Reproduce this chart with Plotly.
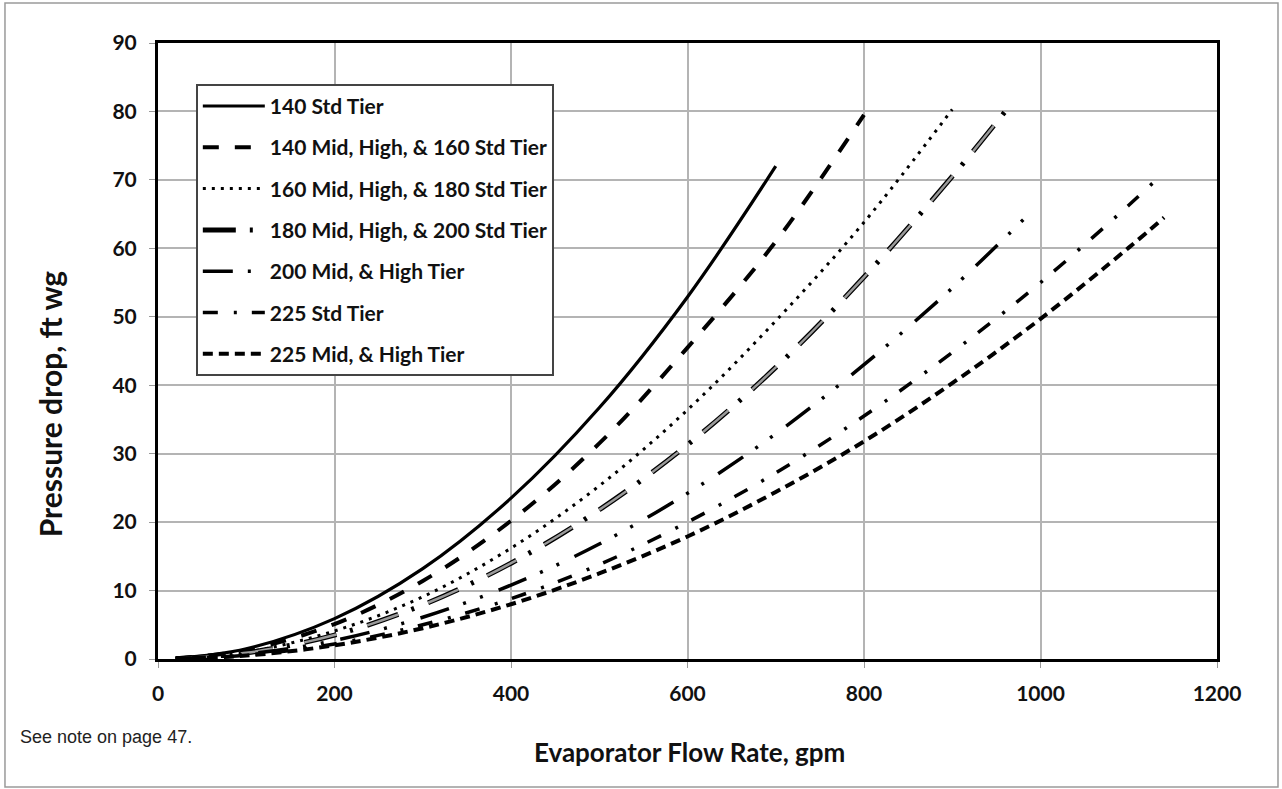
import plotly.graph_objects as go

# ---- data ----
flow_140std = [20, 100, 200, 300, 400, 500, 600, 700]
dp_140std = [0.1, 1.5, 5.9, 13.2, 23.5, 36.7, 52.9, 72.0]

flow_140mid = [20, 100, 200, 300, 400, 500, 600, 700, 800]
dp_140mid = [0.1, 1.3, 5.1, 11.4, 20.2, 31.5, 45.5, 61.0, 79.5]

flow_160mid = [20, 100, 200, 300, 400, 500, 600, 700, 800, 900]
dp_160mid = [0.1, 1.0, 4.1, 9.1, 16.2, 25.3, 36.4, 49.4, 63.8, 80.3]

flow_180mid = [20, 100, 200, 300, 400, 500, 600, 700, 800, 900, 960]
dp_180mid = [0.05, 0.9, 3.5, 7.9, 14.0, 21.8, 31.3, 42.6, 55.8, 70.5, 80.0]

flow_200mid = [20, 100, 200, 300, 400, 500, 600, 700, 800, 900, 990]
dp_200mid = [0.05, 0.7, 2.7, 6.1, 10.8, 16.8, 24.2, 32.9, 43.0, 54.2, 65.4]

flow_225std = [20, 100, 200, 300, 400, 500, 600, 700, 800, 900, 1000, 1100, 1135]
dp_225std = [0.05, 0.55, 2.2, 5.0, 8.8, 13.8, 20.0, 27.2, 35.5, 44.8, 55.0, 66.3, 70.5]

flow_225mid = [20, 100, 200, 300, 400, 500, 600, 700, 800, 900, 1000, 1100, 1140]
dp_225mid = [0.05, 0.5, 2.0, 4.5, 8.0, 12.5, 17.9, 24.4, 31.8, 40.3, 49.7, 60.1, 64.5]

names = [
    "140 Std Tier",
    "140 Mid, High, & 160 Std Tier",
    "160 Mid, High, & 180 Std Tier",
    "180 Mid, High, & 200 Std Tier",
    "200 Mid, & High Tier",
    "225 Std Tier",
    "225 Mid, & High Tier",
]

x_ticks = [0, 200, 400, 600, 800, 1000, 1200]
y_ticks = [0, 10, 20, 30, 40, 50, 60, 70, 80, 90]

FONT = "Lato"

fig = go.Figure()


def add(x, y, name, group, color, width, dash, legend=True):
    fig.add_trace(go.Scatter(
        x=x, y=y, name=name, mode="lines", legendgroup=group, showlegend=legend,
        line=dict(color=color, width=width, dash=dash, shape="spline", smoothing=1.0),
        hoverinfo="skip",
    ))


add(flow_140std, dp_140std, names[0], "g0", "#000000", 3.2, "solid")
add(flow_140mid, dp_140mid, names[1], "g1", "#000000", 4, "16px,16px")
add(flow_160mid, dp_160mid, names[2], "g2", "#000000", 3, "3px,6px")
add(flow_180mid, dp_180mid, names[3], "g3", "#000000", 5, "33px,14px,3px,15px")
add(flow_180mid, dp_180mid, names[3], "g3", "#9a9a9a", 2.5, "33px,32px", legend=False)
add(flow_200mid, dp_200mid, names[4], "g4", "#000000", 3.5, "30px,15px,3px,15px,3px,17px")
add(flow_225std, dp_225std, names[5], "g5", "#000000", 3.5, "15px,16px,3px,15px")
add(flow_225mid, dp_225mid, names[6], "g6", "#000000", 4, "10px,6px")

axis_common = dict(
    showgrid=True, gridcolor="#b4b4b4", gridwidth=1.6,
    showline=True, linecolor="#000000", linewidth=3, mirror=True,
    ticks="outside", ticklen=6, tickcolor="#999999", tickwidth=1,
    zeroline=False,
    tickfont=dict(family=FONT, size=21, color="#111111", weight="bold"),
)

fig.update_layout(
    width=1282, height=789, autosize=False,
    margin=dict(l=158, r=65, t=43, b=130),
    paper_bgcolor="#ffffff", plot_bgcolor="rgba(0,0,0,0)",
    xaxis=dict(range=[0, 1200], tickvals=x_ticks, ticklabelstandoff=8, **axis_common),
    yaxis=dict(range=[0, 90], tickvals=y_ticks, ticklabelstandoff=8, **axis_common),
    legend=dict(
        x=0.0359, y=0.9334, xanchor="left", yanchor="top",
        bgcolor="#ffffff", bordercolor="#444444", borderwidth=1.8,
        font=dict(family=FONT, size=21, color="#111111", weight="bold"),
        itemwidth=62, tracegroupgap=11, traceorder="grouped",
    ),
    annotations=[
        dict(text="Evaporator Flow Rate, gpm", xref="paper", yref="paper",
             x=0.502, y=-0.151, xanchor="center", yanchor="middle", showarrow=False,
             font=dict(family=FONT, size=26, color="#111111", weight="bold")),
        dict(text="Pressure drop, ft wg", xref="paper", yref="paper", textangle=-90,
             x=-0.102, y=0.415, xanchor="center", yanchor="middle", showarrow=False,
             font=dict(family=FONT, size=30, color="#111111", weight="bold")),
        dict(text="See note on page 47.", xref="paper", yref="paper",
             x=-0.1322, y=-0.1266, xanchor="left", yanchor="middle", showarrow=False,
             font=dict(family="Liberation Sans", size=18, color="#222222")),
    ],
    shapes=[
        dict(type="rect", xref="paper", yref="paper", x0=-0.1445, x1=1.0576,
             y0=-0.2078, y1=1.065, line=dict(color="#9a9a9a", width=1.5), layer="below"),
    ],
    showlegend=True,
)

fig.write_html("out.html", config={"displayModeBar": False},
               post_script="document.body.style.margin='0';")
